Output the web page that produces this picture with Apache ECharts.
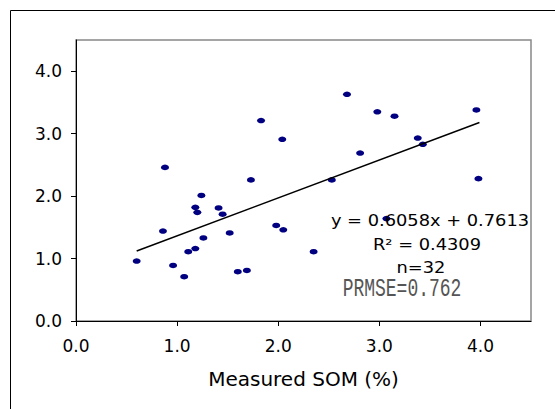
<!DOCTYPE html>
<html>
<head>
<meta charset="utf-8">
<script src="https://cdn.jsdelivr.net/npm/echarts@6/dist/echarts.min.js"></script>
<style>
  html, body { margin: 0; padding: 0; background: #fff; }
  #chartDom { width: 555px; height: 409px; }
</style>
</head>
<body>
<div id="chartDom"></div>
<script>
// values
var measured = [0.60, 0.86, 0.88, 0.96, 1.07, 1.11, 1.18, 1.18, 1.20, 1.24, 1.26, 1.41, 1.45, 1.52, 1.60, 1.69,
                1.73, 1.83, 1.98, 2.04, 2.05, 2.35, 2.53, 2.68, 2.81, 2.98, 3.07, 3.15, 3.38, 3.43, 3.96, 3.98];
var predicted = [0.96, 1.44, 2.46, 0.89, 0.71, 1.11, 1.82, 1.16, 1.74, 2.01, 1.33, 1.81, 1.71, 1.41, 0.79, 0.81,
                 2.26, 3.21, 1.53, 2.91, 1.46, 1.11, 2.26, 3.63, 2.69, 3.35, 1.64, 3.28, 2.93, 2.83, 3.38, 2.28];
var trendX = [0.60, 3.99];
var trendY = [1.12, 3.18];
var tickValues = [0, 1, 2, 3, 4];
var xName = 'Measured SOM (%)';
var statLines = ['y = 0.6058x + 0.7613', 'R\u00b2 = 0.4309', 'n=32'];
var prmseText = 'PRMSE=0.762';

var points = measured.map(function (x, i) { return [x, predicted[i]]; });
var trend = trendX.map(function (x, i) { return [x, trendY[i]]; });

var chartDom = document.getElementById('chartDom');
var myChart = echarts.init(chartDom, null, {renderer: 'svg'});

var labelFont = {color: '#000', fontFamily: 'DejaVu Sans', fontSize: 17};

var option = {
    animation: false,
    backgroundColor: '#fff',
    grid: {
        left: 76, top: 40, right: 24, bottom: 88,
        show: true, borderColor: '#888', borderWidth: 1.5, backgroundColor: '#fff'
    },
    xAxis: {
        type: 'value', min: 0, max: 4.5, interval: 1,
        name: xName, nameLocation: 'middle', nameGap: 48,
        nameTextStyle: {color: '#000', fontFamily: 'DejaVu Sans', fontSize: 20},
        axisLine: {lineStyle: {color: '#000', width: 1}},
        axisTick: {show: true, length: 5, lineStyle: {color: '#000'}, customValues: tickValues},
        axisLabel: Object.assign({margin: 16, customValues: tickValues,
            formatter: function (v) { return v.toFixed(1); }}, labelFont),
        splitLine: {show: false}
    },
    yAxis: {
        type: 'value', min: 0, max: 4.5, interval: 1,
        axisLine: {show: true, lineStyle: {color: '#000', width: 1}},
        axisTick: {show: true, length: 5, lineStyle: {color: '#000'}, customValues: tickValues},
        axisLabel: Object.assign({margin: 14, customValues: tickValues,
            formatter: function (v) { return v.toFixed(1); }}, labelFont),
        splitLine: {show: false}
    },
    series: [
        {
            type: 'scatter',
            data: points,
            symbol: 'circle',
            symbolSize: [8, 5.5],
            itemStyle: {color: '#000080', opacity: 1},
            z: 2
        },
        {
            type: 'line',
            data: trend,
            showSymbol: false,
            lineStyle: {color: '#000', width: 1.5},
            z: 3
        }
    ],
    graphic: [
        {
            type: 'rect', silent: true, z: 100,
            shape: {x: 10.5, y: 10.5, width: 700, height: 500},
            style: {fill: 'none', stroke: '#000', lineWidth: 1}
        },
        {
            type: 'text', x: 430, y: 220, scaleX: 1.15, z: 100,
            style: {text: statLines[0], fill: '#000', font: '15.5px "DejaVu Sans"',
                textAlign: 'center', textVerticalAlign: 'middle', align: 'center', verticalAlign: 'middle'}
        },
        {
            type: 'text', x: 427, y: 244, scaleX: 1.15, z: 100,
            style: {text: statLines[1], fill: '#000', font: '15.5px "DejaVu Sans"',
                textAlign: 'center', textVerticalAlign: 'middle', align: 'center', verticalAlign: 'middle'}
        },
        {
            type: 'text', x: 421, y: 267, scaleX: 1.15, z: 100,
            style: {text: statLines[2], fill: '#000', font: '15.5px "DejaVu Sans"',
                textAlign: 'center', textVerticalAlign: 'middle', align: 'center', verticalAlign: 'middle'}
        },
        {
            type: 'text', x: 402, y: 290, scaleY: 1.4, z: 100,
            style: {text: prmseText, fill: '#555', font: '18px "Liberation Mono"',
                textAlign: 'center', textVerticalAlign: 'middle', align: 'center', verticalAlign: 'middle'}
        }
    ]
};

myChart.setOption(option);
</script>
</body>
</html>
